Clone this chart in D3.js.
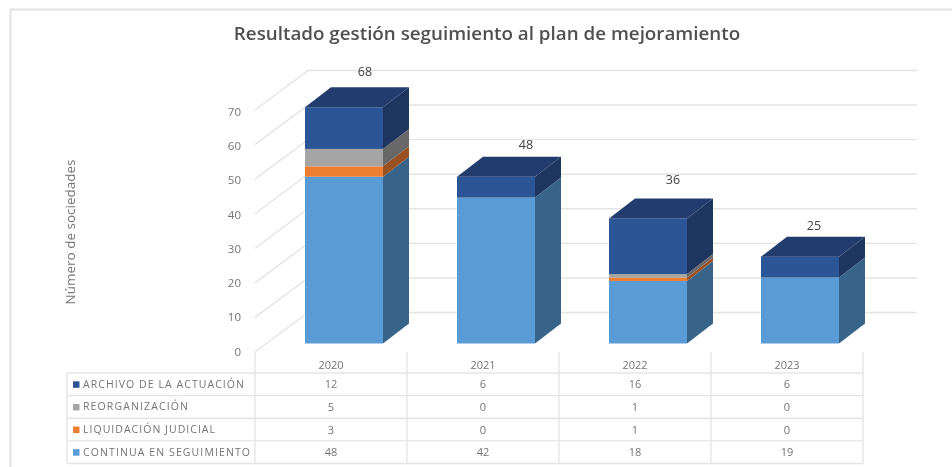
<!DOCTYPE html>
<html><head><meta charset="utf-8">
<script src="https://cdn.jsdelivr.net/npm/d3@7/dist/d3.min.js"></script>
<style>html,body{margin:0;padding:0;background:#fff}svg{display:block;filter:blur(0.45px)}text{font-family:"Open Sans",sans-serif}</style>
</head><body><svg width="952" height="467"></svg>
<script>
const years=["2020","2021","2022","2023"];
const totals=[68,48,36,25];
const continua=[48,42,18,19];
const liquidacion=[3,0,1,0];
const reorganizacion=[5,0,1,0];
const archivo=[12,6,16,6];
const seriesNames=["ARCHIVO DE LA ACTUACIÓN","REORGANIZACIÓN","LIQUIDACIÓN JUDICIAL","CONTINUA EN SEGUIMIENTO"];
const seriesValues=[archivo,reorganizacion,liquidacion,continua];
const stackOrder=[3,2,1,0];
const colors=["#2c5596","#a5a5a5","#ed7d31","#5b9bd5"];
const sideColors=["#1e3560","#686868","#9a5020","#38648a"];
const topColor="#223c6e";
const ticks=d3.range(0,71,10);
const titleText="Resultado gestión seguimiento al plan de mejoramiento";
const axisTitle="Número de sociedades";

const svg=d3.select("svg");
const grid="#e4e4e4",txt="#747474";
// frame
svg.append("path").attr("d","M10.5,467V9.5H952").attr("fill","none").attr("stroke","#e2e2e2").attr("stroke-width",2);
svg.append("text").attr("x",487).attr("y",39.5).attr("text-anchor","middle").attr("font-size",18.8).attr("font-weight",600).attr("fill","#505050").text(titleText);
// scales
const yFront=d3.scaleLinear().domain([0,70]).range([352,110]);
const yLabel=d3.scaleLinear().domain([0,70]).range([351,111]);
const wallDx=53,wallDy=-39.5,wallEnd=917;
const cols=d3.scaleBand().domain(years).range([255,863]);
const yBar=d3.scaleLinear().domain([0,70]).range([343.5,100.3]);
const barW=78,depthX=26,depthY=-20;
const barX=y=>cols(y)+50;

// gridlines
const g=svg.append("g").attr("fill","none").attr("stroke",grid).attr("stroke-width",1.4);
ticks.forEach(t=>{
  const y=yFront(t);
  g.append("path").attr("d",`M255,${y}L${255+wallDx},${y+wallDy}L${wallEnd},${y+wallDy}`);
});
// axis
const axis=d3.axisLeft(yLabel).tickValues(ticks).tickSize(0).tickPadding(0);
const ax=svg.append("g").attr("transform","translate(241,0.5)").call(axis);
ax.select(".domain").remove();
ax.selectAll("text").attr("font-size",11.5).attr("fill",txt).style("font-family",'"Open Sans",sans-serif');
svg.append("text").attr("transform","translate(75,232) rotate(-90)").attr("text-anchor","middle").attr("font-size",13.5).attr("fill",txt).text(axisTitle);

// bars
years.forEach((yr,i)=>{
  const x=barX(yr);let acc=0;
  const bg=svg.append("g");
  stackOrder.forEach(s=>{
    const v=seriesValues[s][i];
    if(!v)return;
    const y0=yBar(acc),y1=yBar(acc+v);acc+=v;
    bg.append("path").attr("fill",sideColors[s])
      .attr("d",`M${x+barW},${y0}L${x+barW+depthX},${y0+depthY}L${x+barW+depthX},${y1+depthY}L${x+barW},${y1}Z`);
    bg.append("rect").attr("x",x).attr("y",y1).attr("width",barW).attr("height",y0-y1).attr("fill",colors[s]);
  });
  const yt=yBar(acc);
  bg.append("path").attr("fill",topColor)
    .attr("d",`M${x},${yt}L${x+depthX},${yt+depthY}L${x+barW+depthX},${yt+depthY}L${x+barW},${yt}Z`);
  svg.append("text").attr("x",x+barW/2+[21,30,25,14][i]).attr("y",yt+depthY-[11,8,14,7][i])
    .attr("text-anchor","middle").attr("font-size",12.5).attr("fill","#404040").text(totals[i]);
});

// data table
const rows=d3.scalePoint().domain(d3.range(5)).range([373,463.5]);
const t=svg.append("g").attr("fill","none").attr("stroke",grid).attr("stroke-width",1.4);
d3.range(5).forEach(r=>t.append("path").attr("d",`M67,${rows(r)}H863`));
t.append("path").attr("d",`M67,373V463.5`);
[...years.map(y=>cols(y)),863].forEach(x=>t.append("path").attr("d",`M${x},352V463.5`));
years.forEach(yr=>svg.append("text").attr("x",cols(yr)+cols.bandwidth()/2).attr("y",369)
  .attr("text-anchor","middle").attr("font-size",11).attr("fill",txt).text(yr));
seriesNames.forEach((n,r)=>{
  const cy=(rows(r)+rows(r+1))/2;
  svg.append("rect").attr("x",73).attr("y",cy-3).attr("width",6.5).attr("height",6.5).attr("fill",colors[r]);
  svg.append("text").attr("x",83).attr("y",cy+3.5).attr("font-size",10.5).attr("fill",txt).attr("textLength",[161,105,132,167][r]).attr("lengthAdjust","spacing").text(n);
  years.forEach((yr,i)=>svg.append("text").attr("x",cols(yr)+cols.bandwidth()/2).attr("y",cy+4)
    .attr("text-anchor","middle").attr("font-size",11).attr("fill",txt).text(seriesValues[r][i]));
});
</script></body></html>
